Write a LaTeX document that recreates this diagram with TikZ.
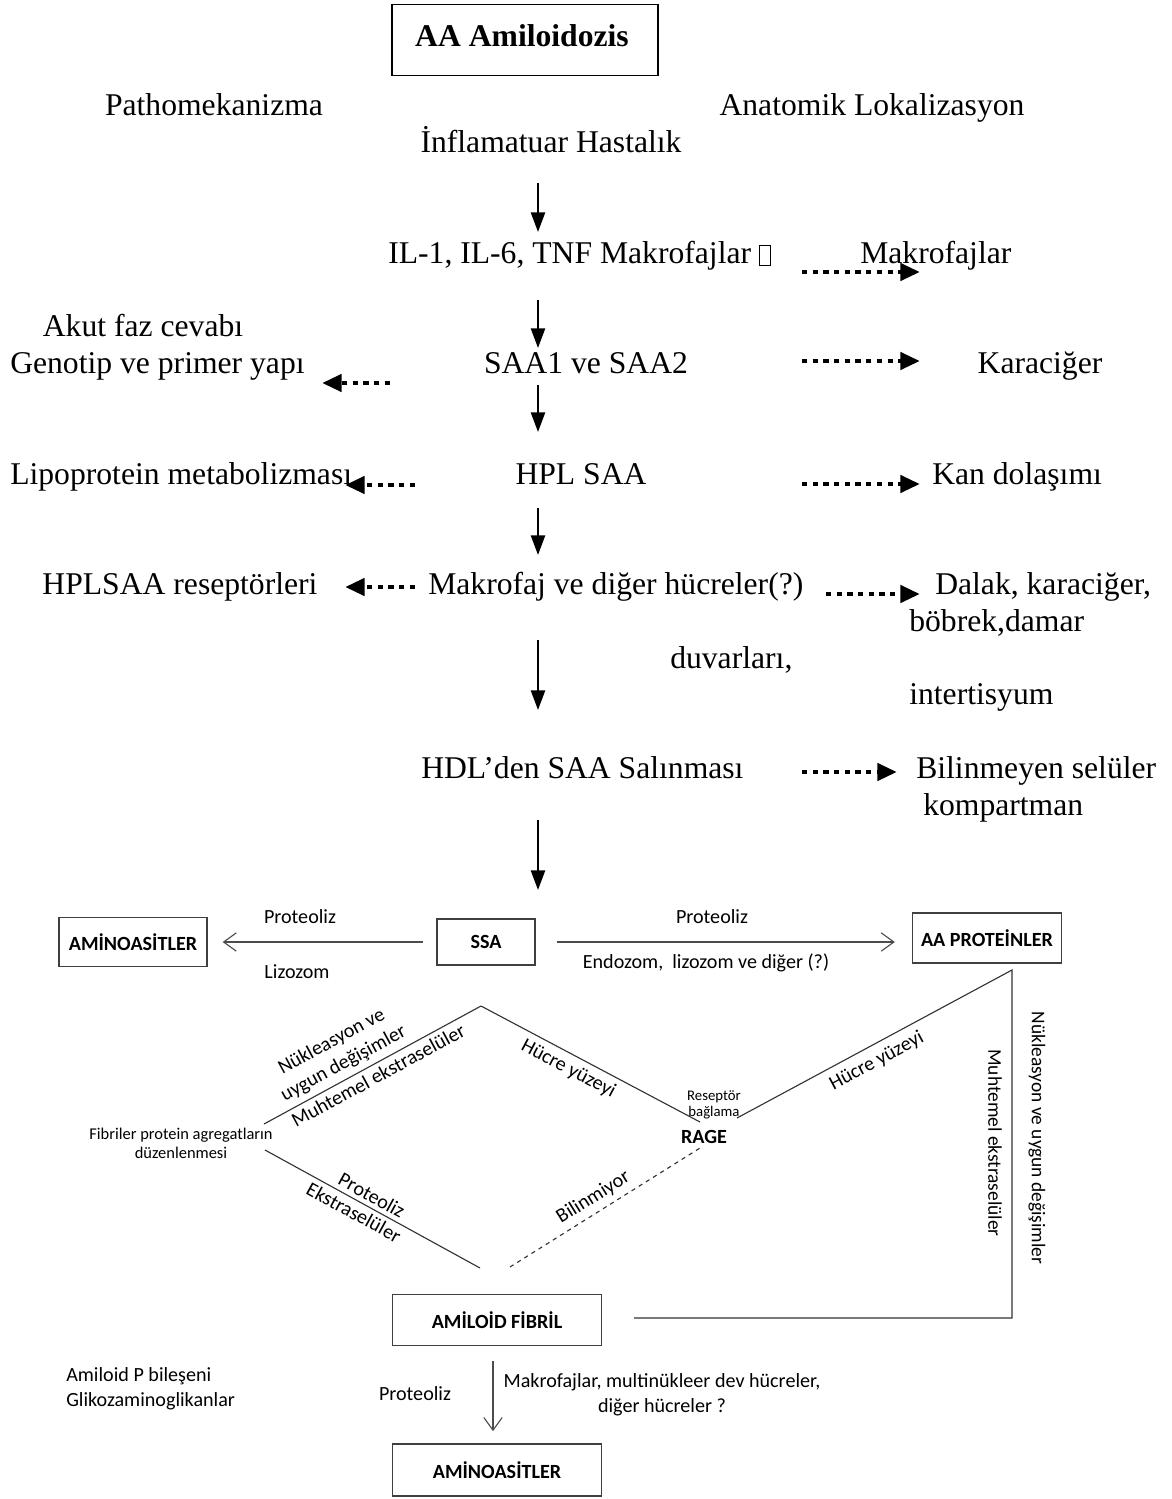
\documentclass[tikz,border=0pt]{standalone}
\usepackage{fontspec}
\setmainfont{Liberation Serif}
\newfontfamily\calib{Carlito}
\usetikzlibrary{arrows.meta,positioning}
\tikzset{>=Triangle}
\tikzset{
  tnr/.style={font=\fontsize{22.5}{27}\selectfont, inner sep=0pt, text height=15pt, text depth=4.5pt},
  flow/.style={-{Triangle[length=14pt,width=10pt]}, line width=1.7pt},
  dotflow/.style={-{Triangle[length=14pt,width=12pt]}, line width=3.4pt, dash pattern=on 3.7pt off 3.9pt},
  cal/.style={font=\calib\fontsize{14.3}{17.7}\selectfont, inner sep=0pt},
  calsmall/.style={font=\calib\fontsize{11.7}{13.5}\selectfont, inner sep=0pt, align=center},
  calbox/.style={draw=black!75, line width=1.2pt, font=\calib\bfseries\fontsize{14.3}{17}\selectfont},
  edge/.style={draw=black!80, line width=0.8pt},
  openflow/.style={-{Straight Barb[length=9pt,width=13pt]}, line width=0.8pt, draw=black!70},
}
\newcommand{\missglyph}{{\setlength\fboxsep{0pt}\setlength\fboxrule{0.5pt}\raisebox{-1.5pt}{\fbox{\rule{0pt}{14pt}\hspace{7pt}}}}}

\begin{document}
\begin{tikzpicture}[x=0.025cm, y=-0.025cm]
  \useasboundingbox (0,0) rectangle (1171,1499);
  % upper part
  \node[draw, line width=1.4pt, minimum width=6.625cm, minimum height=1.775cm] (title) at (525,40) {};
  \node[font=\bfseries\fontsize{22.5}{27}\selectfont, inner sep=0pt] (titletxt) at (522,36) {AA Amiloidozis};
  \node[tnr] (patho) at (214,108) {Pathomekanizma};
  \node[tnr] (anat) at (872,108) {Anatomik Lokalizasyon};
  \node[tnr] (infl) at (551,145) {İnflamatuar Hastalık};
  \node[tnr, anchor=west] (il) at (388,256) {IL-1, IL-6, TNF Makrofajlar \missglyph};
  \node[tnr, anchor=west] (makr) at (860,256) {Makrofajlar};
  \node[tnr] (akut) at (143,329) {Akut faz cevabı};
  \node[tnr, anchor=west] (geno) at (10,366) {Genotip ve primer yapı};
  \node[tnr] (saa) at (586,366) {SAA1 ve SAA2};
  \node[tnr] (kara) at (1040,366) {Karaciğer};
  \node[tnr, anchor=west] (lipo) at (10,477) {Lipoprotein metabolizması};
  \node[tnr] (hpl) at (581,477) {HPL SAA};
  \node[tnr, anchor=west] (kan) at (932,477) {Kan dolaşımı};
  \node[tnr] (hplr) at (180,587) {HPLSAA reseptörleri};
  \node[tnr, anchor=west] (mdh) at (428,587) {Makrofaj ve diğer hücreler(?)};
  \node[tnr, anchor=west] (dalak) at (935,587) {Dalak, karaciğer,};
  \node[tnr, anchor=west] (bobrek) at (909,624) {böbrek,damar};
  \node[tnr, anchor=west] (duvar) at (670,661) {duvarları,};
  \node[tnr, anchor=west] (inter) at (909,697) {intertisyum};
  \node[tnr, anchor=west] (hdl) at (421,771) {HDL’den SAA Salınması};
  \node[tnr, anchor=west] (bilin) at (916,771) {Bilinmeyen selüler};
  \node[tnr, anchor=west] (komp) at (923,808) {kompartman};
  % arrow ends
  \coordinate (a1s) at (538,183); \coordinate (a1e) at (538,232);
  \coordinate (a2s) at (538,300); \coordinate (a2e) at (538,348);
  \coordinate (a3s) at (538,385); \coordinate (a3e) at (538,432);
  \coordinate (a4s) at (538,508); \coordinate (a4e) at (538,555);
  \coordinate (a5s) at (538,640); \coordinate (a5e) at (538,710);
  \coordinate (a6s) at (538,820); \coordinate (a6e) at (538,890);
  \foreach \i in {1,...,6}
    \draw[flow] (a\i s) -- (a\i e);
  \coordinate (d1s) at (802,272); \coordinate (d1e) at (920,272);
  \coordinate (d2s) at (390,383); \coordinate (d2e) at (322,383);
  \coordinate (d3s) at (802,361); \coordinate (d3e) at (920,361);
  \coordinate (d4s) at (415,485); \coordinate (d4e) at (345,485);
  \coordinate (d5s) at (802,484); \coordinate (d5e) at (920,484);
  \coordinate (d6s) at (415,587); \coordinate (d6e) at (345,587);
  \coordinate (d7s) at (826,594); \coordinate (d7e) at (920,594);
  \coordinate (d8s) at (802,772); \coordinate (d8e) at (897,772);
  \foreach \i in {1,...,8}
    \draw[dotflow] (d\i s) -- (d\i e);
  % lower part
  \node[calbox, minimum width=3.7cm, minimum height=1.225cm] (amino1) at (133,942) {AMİNOASİTLER};
  \node[calbox, minimum width=2.45cm, minimum height=1.15cm] (ssa) at (486,942) {SSA};
  \node[calbox, minimum width=3.725cm, minimum height=1.25cm] (aap) at (987,938) {AA PROTEİNLER};
  \node[calbox, minimum width=5.225cm, minimum height=1.275cm] (afib) at (497,1320) {AMİLOİD FİBRİL};
  \node[calbox, minimum width=5.225cm, minimum height=1.3cm] (amino2) at (497,1470) {AMİNOASİTLER};
  \draw[openflow, shorten <=0.33cm, shorten >=0.37cm] (ssa.west) -- (amino1.east |- ssa.west);
  \draw[openflow, shorten <=0.52cm, shorten >=0.42cm] (ssa.east) -- (ssa.east -| aap.west);
  \node[cal] (prot1) at (300,917) {Proteoliz};
  \node[cal] (lizo) at (297,972) {Lizozom};
  \node[cal] (prot2) at (712,917) {Proteoliz};
  \node[cal] (endo) at (706,963) {Endozom,\ \ lizozom ve diğer (?)};
  % diamond
  \coordinate (fl) at (264,1124);
  \coordinate (top) at (481,1006);
  \coordinate (rl) at (700,1122);
  \coordinate (rr) at (737,1118);
  \coordinate (apc) at (1012,970);
  \coordinate (apb) at (1012,1318);
  \coordinate (afr) at (634,1318);
  \coordinate (bl) at (265,1150);
  \coordinate (bot) at (480,1268);
  \coordinate (dt) at (700,1148);
  \coordinate (db) at (510,1267);
  \draw[edge] (fl) -- node[cal, sloped, above=4pt, pos=0.40, align=center] {Nükleasyon ve\\uygun değişimler}
    node[cal, sloped, below=3pt, pos=0.50] {Muhtemel ekstraselüler} (top);
  \draw[edge] (top) -- node[cal, sloped, below=4pt, pos=0.43] {Hücre yüzeyi} (rl);
  \draw[edge] (rr) -- node[cal, sloped, below=5pt, pos=0.48] {Hücre yüzeyi} (apc) -- (apb) -- (afr);
  \draw[edge] (bl) -- node[cal, sloped, above=3pt, pos=0.47] {Proteoliz}
    node[cal, sloped, below=3pt, pos=0.44] {Ekstraselüler} (bot);
  \draw[edge, dashed] (db) -- node[cal, sloped, above=4pt, pos=0.48] {Bilinmiyor} (dt);
  \node[cal, rotate=-90, font=\calib\fontsize{13.8}{17}\selectfont] (muht) at (995,1143) {Muhtemel ekstraselüler};
  \node[cal, rotate=-90, font=\calib\fontsize{13.8}{17}\selectfont] (nukl) at (1037,1138) {Nükleasyon ve uygun değişimler};
  \node[calsmall] (fibr) at (181,1143) {Fibriler protein agregatların\\düzenlenmesi};
  \node[font=\calib\fontsize{10.5}{11}\selectfont, inner sep=0pt, align=center] (resep) at (714,1105) {Reseptör\\bağlama};
  \node[font=\calib\bfseries\fontsize{14.3}{17}\selectfont, inner sep=0pt] (rage) at (704,1137) {RAGE};
  % bottom
  \draw[openflow, shorten <=0.37cm, shorten >=0.3cm] ([xshift=-0.1cm]afib.south) -- ([xshift=-0.1cm]amino2.north);
  \node[cal] (prot3) at (415,1394) {Proteoliz};
  \node[cal, align=center] (makr2) at (662,1395) {Makrofajlar, multinükleer dev hücreler,\\diğer hücreler ?};
  \node[cal, anchor=west] (amp) at (66,1376) {Amiloid P bileşeni};
  \node[cal, anchor=west] (gliko) at (66,1401) {Glikozaminoglikanlar};
\end{tikzpicture}
\end{document}
